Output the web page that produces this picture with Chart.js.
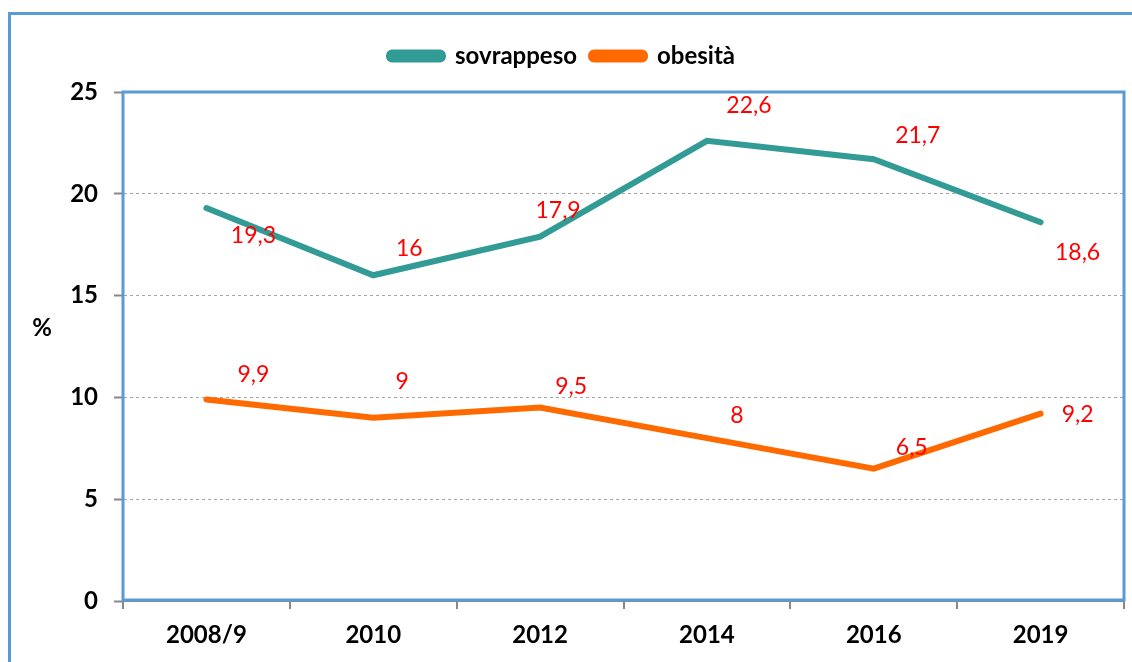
<!DOCTYPE html>
<html>
<head>
<meta charset="utf-8">
<script src="https://cdn.jsdelivr.net/npm/chart.js@4"></script>
<style>
    html, body { margin: 0; padding: 0; background: #ffffff; }
    body { width: 1132px; height: 662px; overflow: hidden; position: relative; }
    /* cornice esterna (solo lato sinistro e superiore visibili) */
    .frame {
        position: absolute; left: 8px; top: 12px; width: 1200px; height: 700px;
        border-left: 3px solid #5b9bd5; border-top: 3px solid #5b9bd5;
        box-sizing: border-box; pointer-events: none;
    }
    #chart-wrap { position: absolute; left: 0; top: 0; width: 1132px; height: 662px; }
</style>
</head>
<body>
<div id="chart-wrap"><canvas id="chart-peso"></canvas></div>
<div class="frame"></div>
<script>
// ================= DATI =================
const anni = ['2008/9', '2010', '2012', '2014', '2016', '2019'];
const sovrappeso = [19.3, 16, 17.9, 22.6, 21.7, 18.6];
const obesita = [9.9, 9, 9.5, 8, 6.5, 9.2];
const yTicks = [0, 5, 10, 15, 20, 25];

// spostamento delle etichette rispetto al punto (dx, dy)
const offsetSovrappeso = [[47, 28], [36, -27], [18, -26], [42, -35], [44, -24], [37, 30]];
const offsetObesita = [[47, -25], [29, -36], [31, -21], [30, -23], [38, -21], [37, 1]];

const FONT = 'Lato, "Open Sans", sans-serif';

// Etichette rosse dei valori + simbolo %
const etichettePlugin = {
    id: 'etichette',
    beforeInit(chart) {
        // spazio in più sotto la legenda
        const fit = chart.legend.fit;
        chart.legend.fit = function () {
            fit.call(this);
            this.height += 14;
        };
    },
    afterDatasetsDraw(chart) {
        const ctx = chart.ctx;
        ctx.save();
        ctx.font = '23px ' + FONT;
        ctx.fillStyle = '#ff0000';
        ctx.textAlign = 'center';
        ctx.textBaseline = 'middle';
        chart.data.datasets.forEach((ds, i) => {
            const meta = chart.getDatasetMeta(i);
            meta.data.forEach((pt, j) => {
                const off = ds.labelOffsets[j];
                const txt = String(ds.data[j]).replace('.', ',');
                ctx.fillText(txt, pt.x + off[0], pt.y + off[1]);
            });
        });
        ctx.restore();
    },
    afterDraw(chart) {
        const ctx = chart.ctx;
        ctx.save();
        ctx.font = 'bold 24px ' + FONT;
        ctx.fillStyle = '#000000';
        ctx.textAlign = 'center';
        ctx.textBaseline = 'middle';
        ctx.fillText('%', 42, 328);
        ctx.restore();
    }
};

// Bordo blu dell'area del grafico
const bordoPlugin = {
    id: 'bordo',
    beforeDatasetsDraw(chart) {
        const a = chart.chartArea;
        const ctx = chart.ctx;
        ctx.save();
        ctx.strokeStyle = '#5b9bd5';
        ctx.lineWidth = 3;
        ctx.strokeRect(a.left, a.top, a.right - a.left, a.bottom - a.top - 1);
        ctx.restore();
    }
};

const ctx = document.getElementById('chart-peso').getContext('2d');
new Chart(ctx, {
    type: 'line',
    data: {
        labels: anni,
        datasets: [
            {
                label: 'sovrappeso', data: sovrappeso, labelOffsets: offsetSovrappeso,
                borderColor: '#339b96', backgroundColor: '#339b96',
                borderWidth: 6, pointRadius: 0, tension: 0, borderCapStyle: 'round', borderJoinStyle: 'miter'
            },
            {
                label: 'obesità', data: obesita, labelOffsets: offsetObesita,
                borderColor: '#ff6a00', backgroundColor: '#ff6a00',
                borderWidth: 6, pointRadius: 0, tension: 0, borderCapStyle: 'round', borderJoinStyle: 'miter'
            }
        ]
    },
    options: {
        responsive: true, maintainAspectRatio: false, animation: false,
        layout: { padding: { top: 30, right: 8, left: 0, bottom: 0 } },
        plugins: {
            legend: {
                position: 'top',
                labels: {
                    color: '#000000', font: { family: FONT, size: 24, weight: 'bold' },
                    boxWidth: 54, boxHeight: 7, padding: 14, useBorderRadius: true, borderRadius: 3
                }
            },
            tooltip: { enabled: false }
        },
        scales: {
            x: {
                offset: true,
                grid: { offset: true, drawOnChartArea: false, drawTicks: true, tickLength: 8, color: '#888888', lineWidth: 2 },
                border: { color: '#888888', width: 2 },
                ticks: { color: '#000000', padding: 12, font: { family: FONT, size: 24, weight: 'bold' }, maxRotation: 0 },
                afterFit(scale) { scale.height = 61; }
            },
            y: {
                min: 0, max: 25,
                afterBuildTicks(scale) { scale.ticks = yTicks.map(v => ({ value: v })); },
                grid: {
                    color: '#a6a6a6', lineWidth: 1, tickBorderDash: [],
                    tickColor: '#888888', tickLength: 9, tickWidth: 2
                },
                border: { color: '#888888', width: 2, dash: [3, 3] },
                ticks: { color: '#000000', padding: 16, font: { family: FONT, size: 24, weight: 'bold' } },
                afterFit(scale) { scale.width = 123; }
            }
        }
    },
    plugins: [bordoPlugin, etichettePlugin]
});
</script>
</body>
</html>
